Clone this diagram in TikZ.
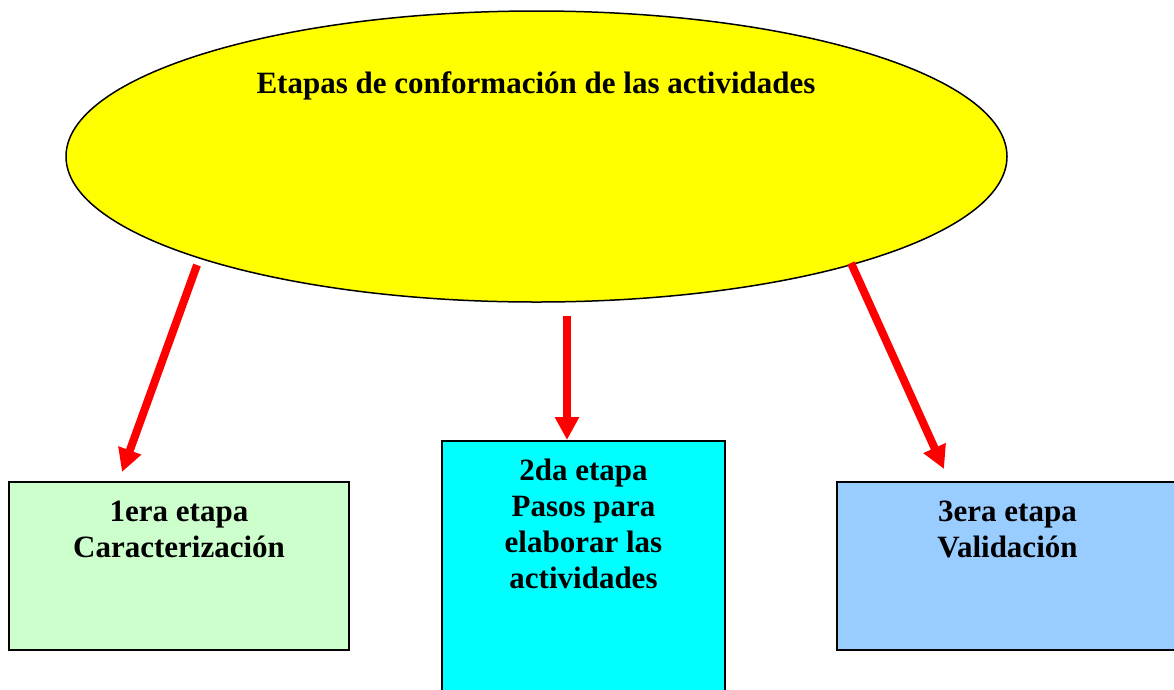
\documentclass[tikz,border=0pt]{standalone}
\usepackage{fontspec}
\setmainfont{Liberation Serif}
\usepackage{tikz}
\usetikzlibrary{shapes.geometric,arrows.meta,positioning}
\definecolor{amarillo}{HTML}{FFFF00}
\definecolor{verdeclaro}{HTML}{CCFFCC}
\definecolor{turquesa}{HTML}{00FFFF}
\definecolor{celeste}{HTML}{99CCFF}

\begin{document}
\begin{tikzpicture}[x=1pt, y=-1pt, >={Triangle[width=23pt,length=23pt]}, font=\fontsize{31}{36}\selectfont\bfseries]
			\tikzstyle{etapa}=[draw=black, line width=1.8pt, rectangle, inner sep=0pt]
			\tikzstyle{texto}=[anchor=north, align=center, inner sep=0pt, text=black]
			\tikzstyle{flecha}=[->, draw=red, line width=8pt]

			\useasboundingbox (0,0) rectangle (1174,689);

			\begin{scope}
				\node[ellipse, draw=black, line width=1.5pt, fill=amarillo, inner sep=0pt,
				minimum width=941pt, minimum height=291pt] (centro) at (536.5,156.5) {};
				\node[texto] (titulo) at (536,71) {Etapas de conformación de las actividades};

				\node[etapa, fill=verdeclaro, minimum width=340pt, minimum height=168pt] (e1) at (179,566) {};
				\node[etapa, fill=turquesa, minimum width=283pt, minimum height=251pt] (e2) at (583.5,566.5) {};
				\node[etapa, fill=celeste, minimum width=341pt, minimum height=168pt] (e3) at (1007.5,566) {};

				\node[texto] (t1) at (179,501) {1era etapa\\Caracterización};
				\node[texto] (t2) at (583.5,459) {2da etapa\\Pasos para\\elaborar las\\actividades};
				\node[texto] (t3) at (1007.5,501) {3era etapa\\Validación};

				\coordinate (s1) at (197,265); \coordinate (f1) at (122,472);
				\coordinate (s2) at (567,316); \coordinate (f2) at (567,440);
				\coordinate (s3) at (851,263); \coordinate (f3) at (944,469);

				\draw[flecha] (s1) -- (f1); \draw[flecha] (s2) -- (f2);
				\draw[flecha] (s3) -- (f3);
			\end{scope}
		\end{tikzpicture}
\end{document}
